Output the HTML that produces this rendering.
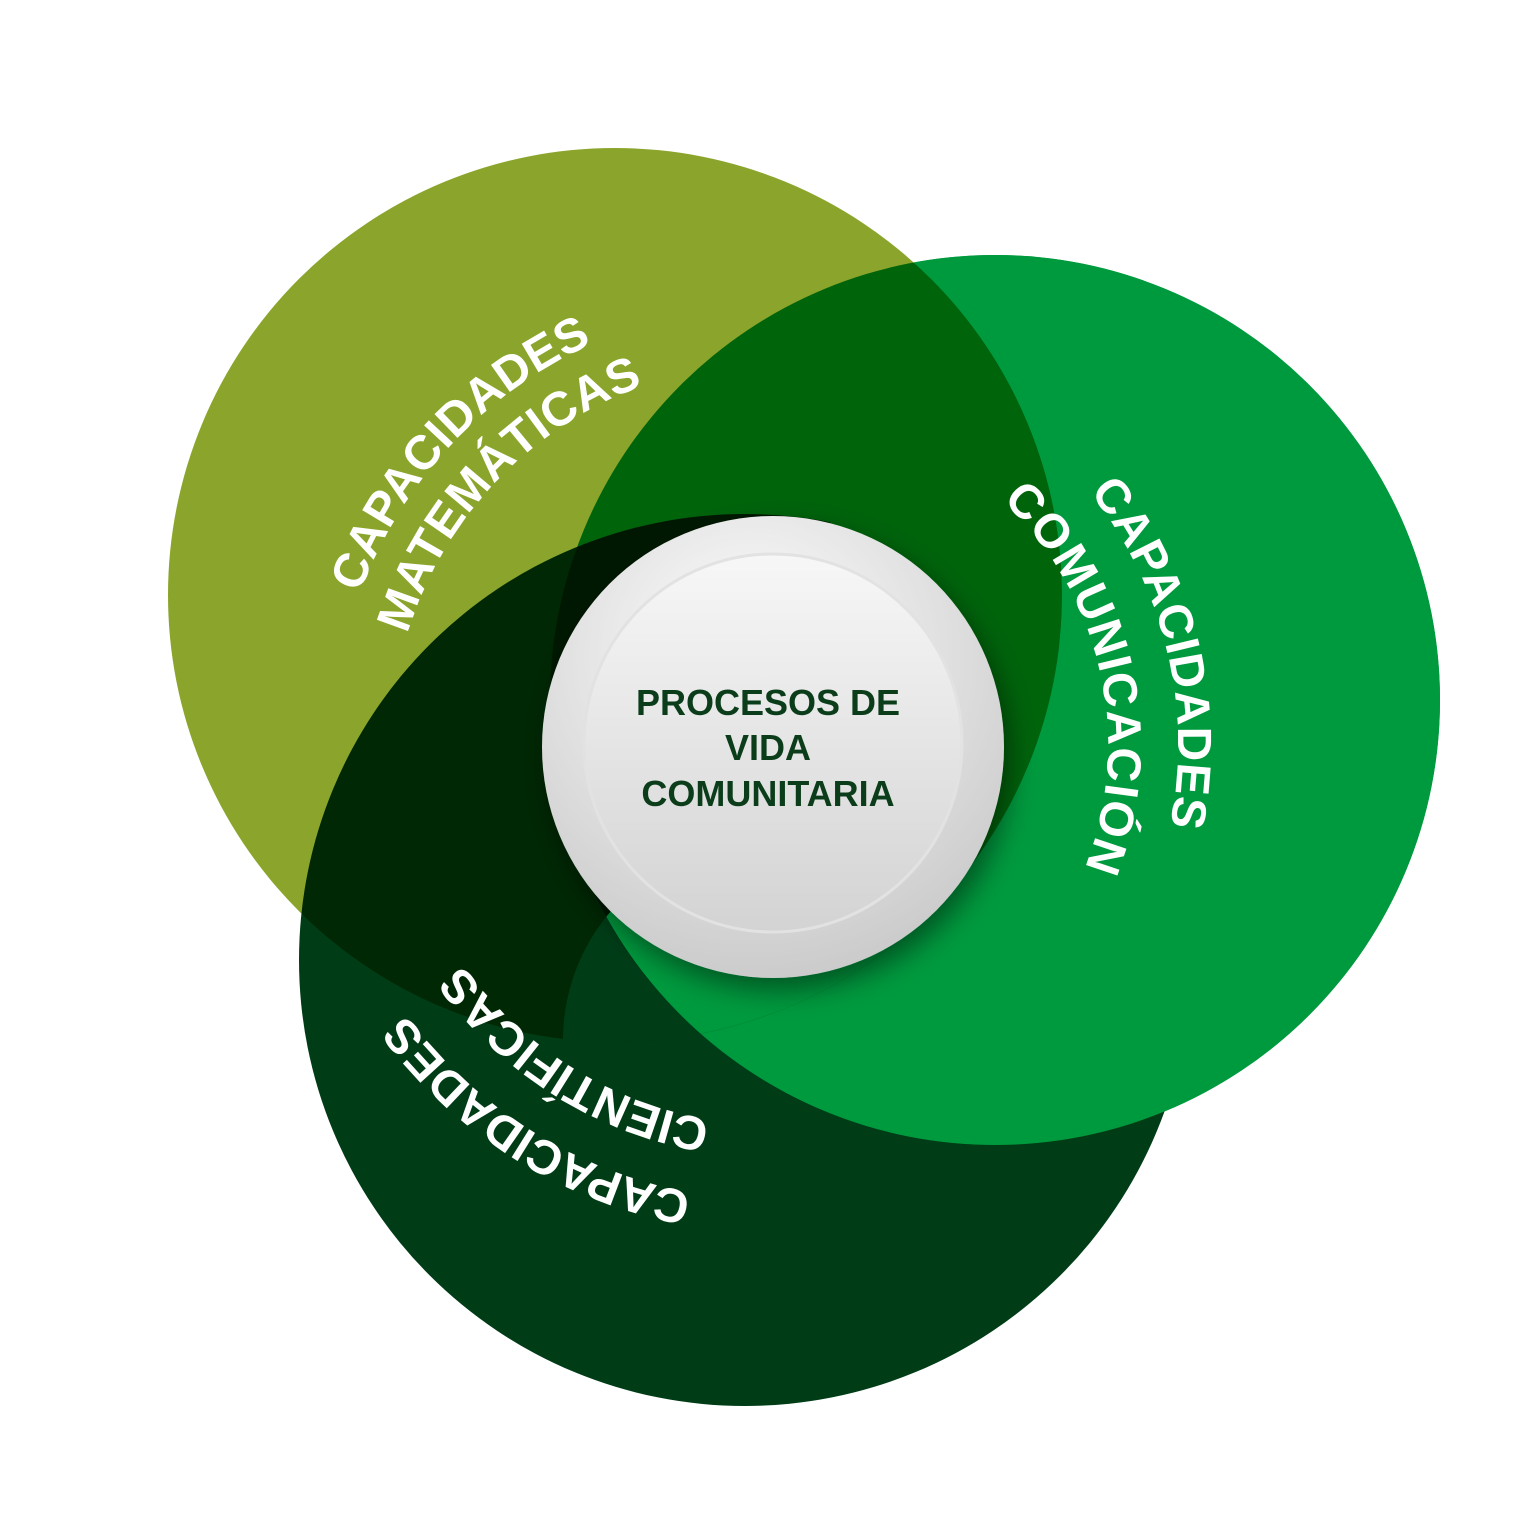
<!DOCTYPE html>
<html><head><meta charset="utf-8"><style>
html,body{margin:0;padding:0;background:#fff;}
svg{display:block;}
</style></head><body>
<svg width="1536" height="1519" viewBox="0 0 1536 1519" xmlns="http://www.w3.org/2000/svg">
<defs>
<radialGradient id="g1" cx="0.45" cy="0.3" r="0.8">
<stop offset="0" stop-color="#ffffff"/><stop offset="1" stop-color="#c4c4c4"/>
</radialGradient>
<linearGradient id="g2" x1="0" y1="0" x2="0" y2="1">
<stop offset="0" stop-color="#f7f7f7"/><stop offset="1" stop-color="#d3d3d3"/>
</linearGradient>
<filter id="sh" x="-30%" y="-30%" width="160%" height="160%">
<feDropShadow dx="6" dy="12" stdDeviation="14" flood-color="#000" flood-opacity="0.45"/>
</filter>
<clipPath id="rightHalf"><polygon points="773,1519 773,522 830,526 880,0 1536,0 1536,1519"/></clipPath>
<mask id="darkMask"><rect width="1536" height="1519" fill="#fff"/><circle cx="615" cy="595" r="447" fill="#000" clip-path="url(#rightHalf)"/></mask>
<mask id="notOlive"><rect width="1536" height="1519" fill="#fff"/><circle cx="615" cy="595" r="447" fill="#000"/></mask>
<mask id="onlyOlive"><circle cx="615" cy="595" r="447" fill="#fff"/></mask>
<clipPath id="mc"><circle cx="760" cy="1040" r="197"/></clipPath>
<path id="pA" d="M333,745 A440,440 0 1 1 1213,745 A440,440 0 1 1 333,745"/>
<path id="pB" d="M391,745 A382,382 0 1 1 1155,745 A382,382 0 1 1 391,745"/>
<path id="pC" d="M368,745 A405,405 0 1 1 1178,745 A405,405 0 1 1 368,745"/>
<path id="pD" d="M438,745 A335,335 0 1 1 1108,745 A335,335 0 1 1 438,745"/>
<path id="pE" d="M318,745 A455,455 0 1 1 1228,745 A455,455 0 1 1 318,745"/>
<path id="pF" d="M393,745 A380,380 0 1 1 1153,745 A380,380 0 1 1 393,745"/>
</defs>
<rect width="1536" height="1519" fill="#fff"/>
<g style="isolation:isolate">
<circle cx="615" cy="595" r="447" fill="#8BA52C"/>
<circle cx="995" cy="700" r="445" fill="#009A3E" style="mix-blend-mode:multiply"/>
<g style="mix-blend-mode:multiply"><circle cx="745" cy="960" r="446" fill="#003D17" mask="url(#darkMask)"/></g>
</g>
<circle cx="995" cy="700" r="445" fill="#009A3E" mask="url(#notOlive)"/>
<g mask="url(#onlyOlive)">
<g clip-path="url(#mc)">
<circle cx="745" cy="960" r="446" fill="#003D17"/>
<circle cx="995" cy="700" r="445" fill="#009A3E"/>
</g>
</g>
<g fill="#fff" font-family="Liberation Sans, sans-serif" font-weight="bold" font-size="48">
<text><textPath href="#pA" startOffset="330" text-anchor="middle" textLength="350" lengthAdjust="spacing">CAPACIDADES</textPath></text>
<text><textPath href="#pB" startOffset="290" text-anchor="middle" textLength="355" lengthAdjust="spacing">MATEMÁTICAS</textPath></text>
<text><textPath href="#pC" startOffset="1176" text-anchor="middle" textLength="355" lengthAdjust="spacing">CAPACIDADES</textPath></text>
<text><textPath href="#pD" startOffset="978" text-anchor="middle" textLength="400" lengthAdjust="spacing">COMUNICACIÓN</textPath></text>
<text><textPath href="#pE" startOffset="2398" text-anchor="middle" textLength="345" lengthAdjust="spacing">CAPACIDADES</textPath></text>
<text><textPath href="#pF" startOffset="2003" text-anchor="middle" textLength="300" lengthAdjust="spacing">CIENTÍFICAS</textPath></text>
</g>
<circle cx="773" cy="747" r="231" fill="url(#g1)" filter="url(#sh)"/>
<circle cx="773" cy="743" r="189" fill="url(#g2)" stroke="#e2e2e2" stroke-width="3"/>
<g fill="#0b3d1b" font-family="Liberation Sans, sans-serif" font-weight="bold" font-size="36" text-anchor="middle">
<text x="768" y="715">PROCESOS DE</text>
<text x="768" y="760">VIDA</text>
<text x="768" y="806">COMUNITARIA</text>
</g>
</svg>
</body></html>
